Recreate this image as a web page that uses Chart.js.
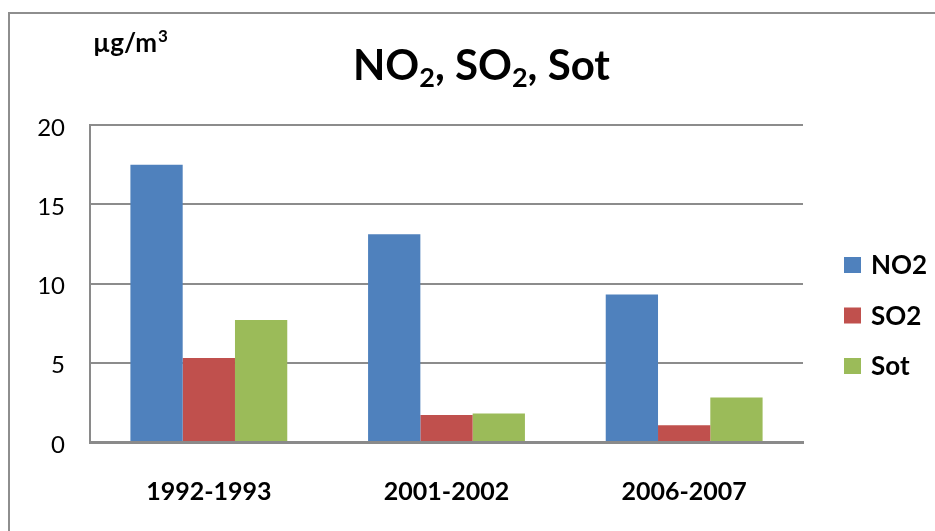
<!DOCTYPE html>
<html>
<head>
<meta charset="utf-8">
<title>NO2, SO2, Sot</title>
<script src="https://cdn.jsdelivr.net/npm/chart.js@4.4.1/dist/chart.umd.min.js"></script>
<style>
  html, body { margin: 0; padding: 0; background: #ffffff; }
  #wrap { position: relative; width: 935px; height: 531px; overflow: hidden; }
  #frame { position: absolute; left: 8px; top: 12px; right: -4px; bottom: -4px;
           border-top: 2px solid #8e8e8e; border-left: 2px solid #8e8e8e; }
  canvas { position: absolute; left: 0; top: 0; }
</style>
</head>
<body>
<div id="wrap">
  <div id="frame"></div>
  <canvas id="chart" width="935" height="531"></canvas>
</div>
<script>
// Measurement periods
const periods = ['1992-1993', '2001-2002', '2006-2007'];

// Annual means, µg/m³
const no2 = [17.5, 13.1, 9.3];
const so2 = [5.3, 1.7, 1.05];
const sot = [7.7, 1.8, 2.8];

const seriesNames = ['NO2', 'SO2', 'Sot'];
const seriesColors = ['#4F81BD', '#C0504D', '#9BBB59'];

const yTicks = [0, 5, 10, 15, 20];

const FONT = 'Lato, "Open Sans", "DejaVu Sans", sans-serif';

// Title with subscripts and the unit label in the top-left corner
const headerPlugin = {
  id: 'header',
  afterDraw(chart) {
    const ctx = chart.ctx;
    ctx.save();
    ctx.fillStyle = '#000';
    ctx.textBaseline = 'alphabetic';
    ctx.textAlign = 'left';

    // unit
    ctx.font = 'bold 26px ' + FONT;
    ctx.fillText('µg/m', 93, 52);
    const w = ctx.measureText('µg/m').width;
    ctx.font = 'bold 17px ' + FONT;
    ctx.fillText('3', 93 + w + 1, 42);

    // title: NO₂, SO₂, Sot
    const parts = [
      ['NO', false], ['2', true], [', SO', false], ['2', true], [', Sot', false]
    ];
    const big = 'bold 42px ' + FONT;
    const small = 'bold 27px ' + FONT;
    let x = 353;
    const base = 80;
    parts.forEach(([t, sub]) => {
      ctx.font = sub ? small : big;
      ctx.fillText(t, x, sub ? base + 7 : base);
      x += ctx.measureText(t).width;
    });
    ctx.restore();
  }
};

// Legend column on the right of the plot
const sideLegendPlugin = {
  id: 'sideLegend',
  afterDraw(chart) {
    const ctx = chart.ctx;
    ctx.save();
    ctx.font = 'bold 26px ' + FONT;
    ctx.textBaseline = 'middle';
    ctx.textAlign = 'left';
    chart.data.datasets.forEach((ds, i) => {
      const cy = 265 + i * 50.5;
      ctx.fillStyle = ds.backgroundColor;
      ctx.fillRect(844, cy - 8, 17, 16);
      ctx.fillStyle = '#000';
      ctx.fillText(ds.label, 871, cy + 1);
    });
    ctx.restore();
  }
};

new Chart(document.getElementById('chart'), {
  type: 'bar',
  data: {
    labels: periods,
    datasets: [
      { label: seriesNames[0], data: no2, backgroundColor: seriesColors[0] },
      { label: seriesNames[1], data: so2, backgroundColor: seriesColors[1] },
      { label: seriesNames[2], data: sot, backgroundColor: seriesColors[2] }
    ]
  },
  options: {
    responsive: false,
    animation: false,
    layout: { padding: { top: 125, left: 0, right: 132, bottom: 0 } },
    datasets: {
      bar: { categoryPercentage: 0.66, barPercentage: 1.0, borderWidth: 0 }
    },
    plugins: {
      legend: { display: false },
      title: { display: false },
      tooltip: { enabled: false }
    },
    scales: {
      x: {
        grid: { display: false, drawTicks: false },
        border: { display: true, color: '#8a8a8a', width: 3 },
        ticks: {
          color: '#000',
          padding: 35,
          font: { family: FONT, size: 25, weight: 'bold' }
        },
        afterFit(scale) { scale.height = 89; }
      },
      y: {
        min: 0,
        max: 20,
        afterBuildTicks(scale) { scale.ticks = yTicks.map(v => ({ value: v })); },
        grid: { color: '#8c8c8c', lineWidth: 2, drawTicks: false },
        border: { display: true, color: '#8a8a8a', width: 2 },
        ticks: {
          color: '#000',
          padding: 25,
          labelOffset: 3,
          font: { family: FONT, size: 24 }
        },
        afterFit(scale) { scale.width = 90; }
      }
    }
  },
  plugins: [headerPlugin, sideLegendPlugin]
});
</script>
</body>
</html>
